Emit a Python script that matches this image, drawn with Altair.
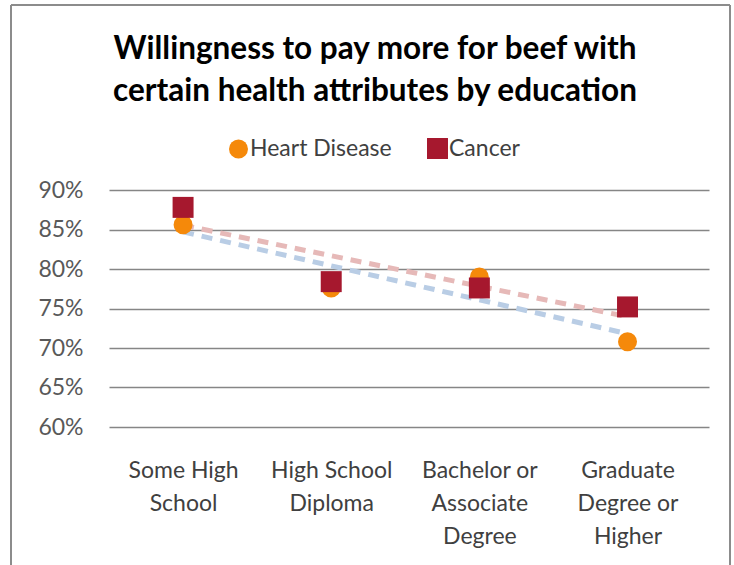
import altair as alt
import numpy as np
import pandas as pd

categories = ["Some High School", "High School Diploma", "Bachelor or Associate Degree", "Graduate Degree or Higher"]
label_lines = [["Some High", "School"], ["High School", "Diploma"], ["Bachelor or", "Associate", "Degree"], ["Graduate", "Degree or", "Higher"]]
series_names = ["Heart Disease", "Cancer"]
heart = [0.856, 0.776, 0.790, 0.708]
cancer = [0.878, 0.784, 0.776, 0.752]

rows = []
trend_rows = []
for name, vals in zip(series_names, [heart, cancer]):
    idxs = np.arange(1, len(vals) + 1)
    for i, (c, v) in enumerate(zip(categories, vals)):
        rows.append({"series": name, "category": c, "idx": i + 1, "value": v})
    # linear least-squares trend line (as in the spreadsheet's linear trendline)
    slope, intercept = np.polyfit(idxs, vals, 1)
    for xe in (idxs[0], idxs[-1]):
        trend_rows.append({"series": name, "idx": float(xe), "value": float(intercept + slope * xe)})
df = pd.DataFrame(rows)
trend_df = pd.DataFrame(trend_rows)

FONT = "Lato"
label_js = "[" + ",".join("[" + ",".join("'" + s + "'" for s in l) + "]" for l in label_lines) + "]"

x_enc = alt.X("idx:Q", scale=alt.Scale(domain=[0.5, 4.55], nice=False, zero=False),
              axis=alt.Axis(values=[1, 2, 3, 4], labelExpr=label_js + "[datum.value - 1]",
                            title=None, grid=False, domain=False, ticks=False,
                            labelFontSize=23, labelFont=FONT, labelColor="#404040",
                            labelLineHeight=33, labelPadding=32, labelBaseline="top",
                            labelAlign="center"))
y_enc = alt.Y("value:Q", scale=alt.Scale(domain=[0.6, 0.9], nice=False, zero=False),
              axis=alt.Axis(values=[0.6, 0.65, 0.7, 0.75, 0.8, 0.85, 0.9], format=".0%",
                            title=None, domain=False, ticks=False, grid=True,
                            gridColor="#868686", gridWidth=1.3,
                            labelFontSize=23, labelFont=FONT, labelColor="#595959",
                            labelPadding=26))

trend_base = alt.Chart(trend_df)
trend_heart = trend_base.transform_filter(alt.datum.series == "Heart Disease").mark_line(
    color="#B9CDE5", strokeWidth=5, strokeDash=[11, 8]).encode(x=x_enc, y=y_enc)
trend_cancer = trend_base.transform_filter(alt.datum.series == "Cancer").mark_line(
    color="#E6B9B8", strokeWidth=5, strokeDash=[11, 8]).encode(x=x_enc, y=y_enc)

points = alt.Chart(df).mark_point(filled=True, opacity=1).encode(
    x=x_enc, y=y_enc,
    color=alt.Color("series:N", scale=alt.Scale(domain=series_names, range=["#F5890A", "#A6182E"]),
                    legend=alt.Legend(title=None, orient="none", direction="horizontal",
                                      legendX=118, legendY=-53, labelFontSize=23, labelFont=FONT,
                                      labelColor="#404040", symbolSize=330, columnPadding=32,
                                      labelOffset=0, symbolOpacity=1)),
    shape=alt.Shape("series:N", scale=alt.Scale(domain=series_names, range=["circle", "square"])),
    size=alt.Size("series:N", scale=alt.Scale(domain=series_names, range=[360, 440]), legend=None),
)

frame_df = pd.DataFrame({"a": [0]})
frame_left = alt.Chart(frame_df).mark_rule(color="#8c8c8c", strokeWidth=2).encode(
    x=alt.value(-98), y=alt.value(-185), y2=alt.value(390))
frame_right = alt.Chart(frame_df).mark_rule(color="#8c8c8c", strokeWidth=2).encode(
    x=alt.value(621), y=alt.value(-185), y2=alt.value(390))
frame_top = alt.Chart(frame_df).mark_rule(color="#8c8c8c", strokeWidth=2).encode(
    x=alt.value(-98), x2=alt.value(621), y=alt.value(-185))

chart = alt.layer(frame_left, frame_right, frame_top, trend_heart, trend_cancer, points).properties(
    width=600, height=237,
    background="white",
    autosize=alt.AutoSizeParams(type="none"),
    padding={"left": 109, "top": 190, "right": 25, "bottom": 138},
    title=alt.TitleParams(["Willingness to pay more for beef with", "certain health attributes by education"],
                          font=FONT, fontSize=31.5, fontWeight="bold", color="#000000",
                          lineHeight=42, anchor="middle", dx=-34, offset=-103),
).configure_view(stroke=None)

chart.save("out.html", embed_options={"renderer": "svg", "actions": False})
